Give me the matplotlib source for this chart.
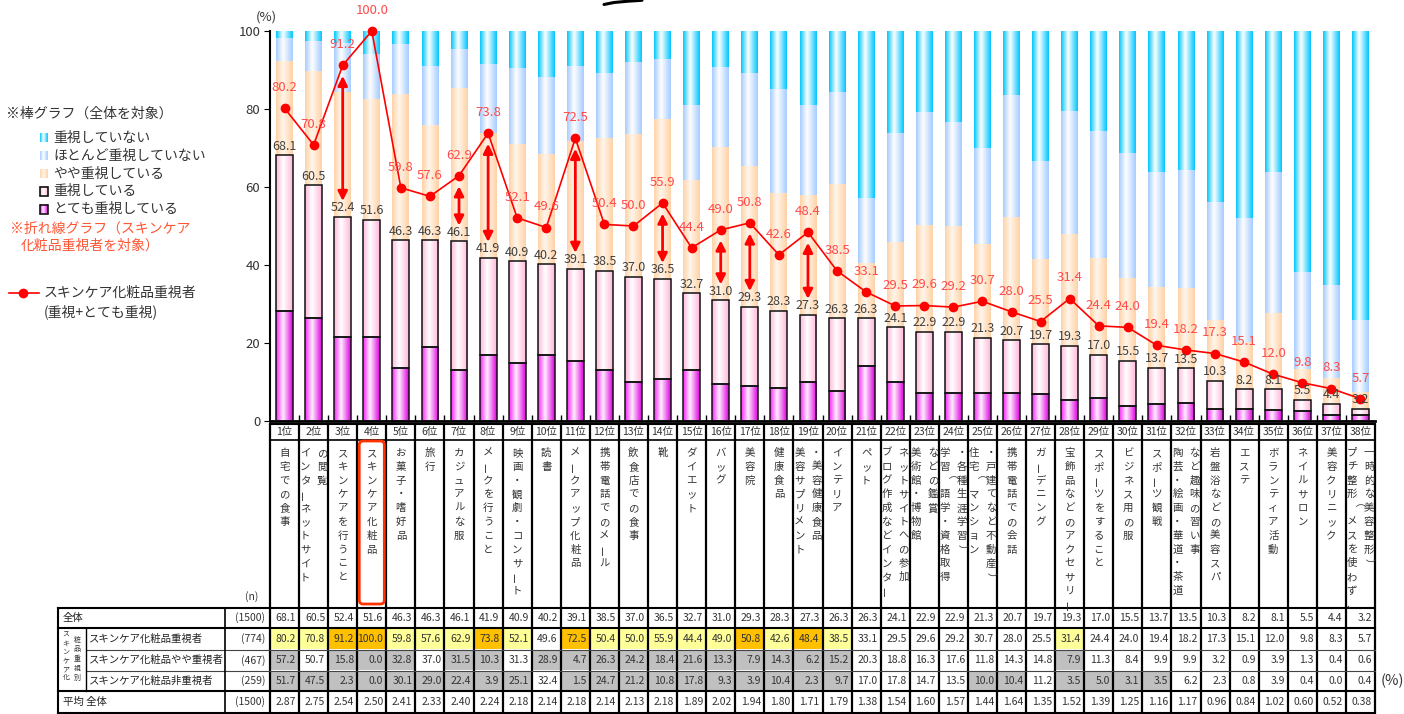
import numpy as np
import matplotlib
matplotlib.use('Agg')
import matplotlib.pyplot as plt
from matplotlib.colors import LinearSegmentedColormap
from matplotlib.patches import Rectangle, FancyBboxPatch

plt.rcParams['font.family'] = ['Noto Sans CJK JP', 'DejaVu Sans']

# ---- data ----
categories = ['自宅での食事', 'インターネットサイト|の閲覧', 'スキンケアを行うこと', 'スキンケア化粧品',
              'お菓子・嗜好品', '旅行', 'カジュアルな服', 'メークを行うこと', '映画・観劇・コンサート',
              '読書', 'メークアップ化粧品', '携帯電話でのメール', '飲食店での食事', '靴', 'ダイエット',
              'バッグ', '美容院', '健康食品', '美容サプリメント|・美容健康食品', 'インテリア', 'ペット',
              'ブログ作成などインター|ネットサイトへの参加', '美術館・博物館|などの鑑賞',
              '学習（語学・資格取得|・各種生涯学習）', '住宅（マンション|・戸建てなど不動産）',
              '携帯電話での会話', 'ガーデニング', '宝飾品などのアクセサリー', 'スポーツをすること',
              'ビジネス用の服', 'スポーツ観戦', '陶芸・絵画・華道・茶道|など趣味の習い事',
              '岩盤浴などの美容スパ', 'エステ', 'ボランティア活動', 'ネイルサロン', '美容クリニック',
              'プチ整形（メスを使わず、|一時的な美容整形）']
ranks = [f'{i}位' for i in range(1, 39)]

# stacked bar segments (全体, %)
very_imp = [28.2, 26.5, 21.6, 21.6, 13.5, 19.0, 13.0, 16.8, 15.0, 16.8, 15.5, 13.2, 9.9, 10.7, 13.2, 9.4,
            9.1, 8.4, 9.9, 7.6, 14.0, 9.9, 7.1, 7.3, 7.1, 7.1, 6.8, 5.3, 5.8, 3.8, 4.3, 4.5, 3.0, 3.2,
            2.7, 2.5, 1.5, 1.5]
imp = [39.9, 34.0, 30.8, 30.0, 32.8, 27.3, 33.1, 25.1, 25.9, 23.4, 23.6, 25.3, 27.1, 25.8, 19.5, 21.6,
       20.2, 19.9, 17.4, 18.7, 12.3, 14.2, 15.8, 15.6, 14.2, 13.6, 12.9, 14.0, 11.2, 11.7, 9.4, 9.0, 7.3,
       5.0, 5.4, 3.0, 2.9, 1.7]
somewhat = [24.1, 29.2, 32.0, 30.9, 37.5, 29.5, 39.3, 31.9, 30.2, 28.3, 32.6, 34.1, 36.5, 40.9, 29.0,
            39.2, 36.0, 30.1, 30.7, 34.5, 14.2, 21.8, 27.3, 27.1, 24.1, 31.6, 21.8, 28.7, 24.8, 21.2,
            20.6, 20.7, 15.7, 12.1, 19.6, 7.8, 6.7, 4.3]
hardly = [6.0, 7.7, 12.6, 11.7, 12.8, 15.2, 9.9, 17.7, 19.4, 19.6, 19.3, 16.6, 18.6, 15.3, 19.3, 20.5,
          23.9, 26.7, 23.0, 23.6, 16.6, 27.9, 29.0, 26.7, 24.6, 31.2, 25.1, 31.4, 32.5, 32.0, 29.5, 30.1,
          30.1, 31.7, 36.1, 24.9, 23.7, 18.4]
not_imp = [1.8, 2.6, 3.0, 5.8, 3.4, 9.0, 4.7, 8.5, 9.5, 11.9, 9.0, 10.8, 7.9, 7.3, 19.0, 9.3, 10.8, 14.9,
           19.0, 15.6, 42.9, 26.2, 20.8, 23.3, 30.0, 16.5, 33.4, 20.6, 25.7, 31.3, 36.2, 35.7, 43.9, 48.0,
           36.2, 61.8, 65.2, 74.1]

# table rows
row_all = [68.1, 60.5, 52.4, 51.6, 46.3, 46.3, 46.1, 41.9, 40.9, 40.2, 39.1, 38.5, 37.0, 36.5, 32.7, 31.0,
           29.3, 28.3, 27.3, 26.3, 26.3, 24.1, 22.9, 22.9, 21.3, 20.7, 19.7, 19.3, 17.0, 15.5, 13.7, 13.5,
           10.3, 8.2, 8.1, 5.5, 4.4, 3.2]
row_skin = [80.2, 70.8, 91.2, 100.0, 59.8, 57.6, 62.9, 73.8, 52.1, 49.6, 72.5, 50.4, 50.0, 55.9, 44.4,
            49.0, 50.8, 42.6, 48.4, 38.5, 33.1, 29.5, 29.6, 29.2, 30.7, 28.0, 25.5, 31.4, 24.4, 24.0,
            19.4, 18.2, 17.3, 15.1, 12.0, 9.8, 8.3, 5.7]
row_some = [57.2, 50.7, 15.8, 0.0, 32.8, 37.0, 31.5, 10.3, 31.3, 28.9, 4.7, 26.3, 24.2, 18.4, 21.6, 13.3,
            7.9, 14.3, 6.2, 15.2, 20.3, 18.8, 16.3, 17.6, 11.8, 14.3, 14.8, 7.9, 11.3, 8.4, 9.9, 9.9, 3.2,
            0.9, 3.9, 1.3, 0.4, 0.6]
row_non = [51.7, 47.5, 2.3, 0.0, 30.1, 29.0, 22.4, 3.9, 25.1, 32.4, 1.5, 24.7, 21.2, 10.8, 17.8, 9.3, 3.9,
           10.4, 2.3, 9.7, 17.0, 17.8, 14.7, 13.5, 10.0, 10.4, 11.2, 3.5, 5.0, 3.1, 3.5, 6.2, 2.3, 0.8,
           3.9, 0.4, 0.0, 0.4]
row_avg = [2.87, 2.75, 2.54, 2.50, 2.41, 2.33, 2.40, 2.24, 2.18, 2.14, 2.18, 2.14, 2.13, 2.18, 1.89, 2.02,
           1.94, 1.80, 1.71, 1.79, 1.38, 1.54, 1.60, 1.57, 1.44, 1.64, 1.35, 1.52, 1.39, 1.25, 1.16, 1.17,
           0.96, 0.84, 1.02, 0.60, 0.52, 0.38]
row_names = ['全体', 'スキンケア化粧品重視者', 'スキンケア化粧品やや重視者', 'スキンケア化粧品非重視者', '平均 全体']
row_n = ['(1500)', '(774)', '(467)', '(259)', '(1500)']

orange_cols = [3, 4, 8, 11, 17, 19]
yellow_cols = [1, 2, 5, 6, 7, 9, 12, 13, 14, 15, 16, 18, 20, 28]
gray_some = [1, 3, 4, 5, 7, 8, 10, 11, 12, 13, 14, 15, 16, 17, 18, 19, 20, 28]
gray_non = [1, 2, 3, 4, 5, 6, 7, 8, 9, 11, 12, 13, 14, 15, 16, 17, 18, 19, 20, 25, 26, 28, 29, 30, 31]
arrow_cols = [3, 7, 8, 11, 14, 16, 17, 19]

legend_labels = ['重視していない', 'ほとんど重視していない', 'やや重視している', '重視している', 'とても重視している']

# ---- figure ----
W, H = 1404, 714
fig = plt.figure(figsize=(W / 100, H / 100), dpi=100, facecolor='white')
ov = fig.add_axes([0, 0, 1, 1], zorder=0)
ov.set_xlim(0, W)
ov.set_ylim(H, 0)
ov.axis('off')
ax = fig.add_axes([270 / W, (H - 421) / H, 1105 / W, 390 / H], zorder=1)
ax.patch.set_alpha(0)

def grad_cmap(c_edge, c_mid='#FFFFFF', c_right=None):
    c_right = c_right or c_edge
    return LinearSegmentedColormap.from_list('g', [(0, c_edge), (0.42, c_mid), (1, c_right)])

cmaps = [grad_cmap('#FF22FF', '#FFF0FF', '#E000E0'),
         grad_cmap('#FFB8DA', '#FFFFFF'),
         grad_cmap('#FFD2A6', '#FFF6EC'),
         grad_cmap('#A6CCFF', '#FFFFFF'),
         grad_cmap('#00C6FF', '#FFFFFF')]
grad = np.linspace(0, 1, 64).reshape(1, -1)

x = np.arange(len(categories))
bw = 0.58
bottom = np.zeros(len(x))
for k, (vals, cm) in enumerate(zip([very_imp, imp, somewhat, hardly, not_imp], cmaps)):
    bars = ax.bar(x, vals, bw, bottom=bottom, color='none',
                  edgecolor='#111111' if k < 2 else 'none', linewidth=1.1, zorder=3)
    for p in bars:
        x0, y0 = p.get_xy()
        im = ax.imshow(grad, extent=[x0, x0 + p.get_width(), y0, y0 + p.get_height()],
                       cmap=cm, aspect='auto', interpolation='bicubic', zorder=2)
        im.set_clip_path(p)
    bottom = bottom + np.array(vals)

# line of skincare-oriented respondents
ax.plot(x, row_skin, color='#FF0000', lw=1.2, marker='o', ms=6, zorder=6, clip_on=False)
for i, v in enumerate(row_skin):
    ax.text(i, v + 5.3, f'{v:.1f}', color='#FF4A4A', ha='center', va='center', fontsize=9.5, zorder=7)
for i, v in enumerate(row_all):
    ax.text(i, v + 2.3, f'{v:.1f}', color='#404040', ha='center', va='center', fontsize=9, zorder=7)
for c in arrow_cols:
    i = c - 1
    ax.annotate('', xy=(i, row_all[i] + 4), xytext=(i, row_skin[i] - 2.7),
                arrowprops=dict(arrowstyle='<|-|>', color='#FF0000', lw=2, mutation_scale=14,
                                shrinkA=0, shrinkB=0), zorder=8)

ax.set_xlim(-0.5, len(x) - 0.5)
ax.set_ylim(0, 100)
ax.set_yticks(range(0, 101, 20))
ax.tick_params(axis='y', direction='out', length=4, labelsize=9.5, labelcolor='#333333', pad=3)
ax.set_xticks(np.arange(len(x) - 1) + 0.5)
ax.set_xticklabels([])
ax.tick_params(axis='x', direction='in', length=4, width=1)
for s in ['top', 'right']:
    ax.spines[s].set_visible(False)
ax.spines['left'].set_linewidth(1.5)
ax.spines['bottom'].set_linewidth(2)
ov.text(266, 17, '(%)', ha='center', va='center', fontsize=9.5, color='#333333')

# ---- category / table grid in pixel space ----
edges = ax.transData.transform(np.c_[np.arange(len(x) + 1) - 0.5, np.zeros(len(x) + 1)])[:, 0]
centers = (edges[:-1] + edges[1:]) / 2
right = edges[-1]
y_head, y_cat, y_tab = 424, 440, 608
row_y = [608, 628, 649.5, 671, 691, 713]

for e in edges:
    ov.plot([e, e], [y_head, row_y[-1]], color='black', lw=1.6, solid_capstyle='butt')
ov.plot([edges[0], right], [y_head, y_head], color='black', lw=1.5)
ov.plot([edges[0], right], [y_cat, y_cat], color='black', lw=1.2)
ov.plot([58, right], [row_y[0], row_y[0]], color='black', lw=1.5)
ov.plot([58, right], [row_y[1], row_y[1]], color='black', lw=1.5)
ov.plot([86, right], [row_y[2], row_y[2]], color='#444444', lw=0.8)
ov.plot([86, right], [row_y[3], row_y[3]], color='#444444', lw=0.8)
ov.plot([58, right], [row_y[4], row_y[4]], color='black', lw=1.5)
ov.plot([58, right], [row_y[5], row_y[5]], color='black', lw=1.5)
ov.plot([58, 58], [row_y[0], row_y[5]], color='black', lw=1.5)
ov.plot([86, 86], [row_y[1], row_y[4]], color='black', lw=1.0)
ov.plot([225, 225], [row_y[0], row_y[5]], color='black', lw=1.2)

ROT = {'ー': 90, '（': -90, '）': -90}
step = 13.8
for i, lab in enumerate(categories):
    ov.text(centers[i], (y_head + y_cat) / 2, ranks[i], ha='center', va='center', fontsize=7.5,
            color='#333333')
    cols = lab.split('|')
    offs = [0] if len(cols) == 1 else [-8.5, 8.5]
    for off, s in zip(offs, cols):
        for k, ch in enumerate(s):
            ov.text(centers[i] + off, 453 + k * step, ch, ha='center', va='center', fontsize=7.5,
                    color='#333333', rotation=ROT.get(ch, 0))

c4 = 3
ov.add_patch(FancyBboxPatch((edges[c4] + 2, 441), edges[c4 + 1] - edges[c4] - 4, 163,
                            boxstyle='round,pad=0,rounding_size=4', fc='none', ec='#FF3300', lw=2,
                            zorder=5))

ov.text(252, 597, '(n)', ha='center', va='center', fontsize=7.5, color='#333333')

rows = [row_all, row_skin, row_some, row_non, row_avg]
for r, vals in enumerate(rows):
    y0, y1 = row_y[r], row_y[r + 1]
    ym = (y0 + y1) / 2
    lx = 63 if r in (0, 4) else 89
    ov.text(lx, ym, row_names[r], ha='left', va='center', fontsize=7.5, color='#222222')
    ov.text(265, ym, row_n[r], ha='right', va='center', fontsize=7.5, color='#333333')
    for i, v in enumerate(vals):
        col = i + 1
        fc = None
        if r == 1 and col in orange_cols:
            fc = '#FFC000'
        elif r == 1 and col in yellow_cols:
            fc = '#FFFF99'
        elif r == 2 and col in gray_some:
            fc = '#C0C0C0'
        elif r == 3 and col in gray_non:
            fc = '#C0C0C0'
        if fc:
            ov.add_patch(Rectangle((edges[i] + 1, y0 + 0.8), edges[i + 1] - edges[i] - 2, y1 - y0 - 1.6,
                                   fc=fc, ec='none', zorder=0.5))
        txt = f'{v:.2f}' if r == 4 else f'{v:.1f}'
        ov.text(edges[i + 1] - 3, ym, txt, ha='right', va='center', fontsize=7.5, color='#333333',
                zorder=2)

for k, ch in enumerate('スキンケア化'):
    ov.text(66, 635 + k * 8.6, ch, ha='center', va='center', fontsize=5, color='#333333',
            rotation=ROT.get(ch, 0))
for k, ch in enumerate('粧品重視別'):
    ov.text(77, 640 + k * 9.5, ch, ha='center', va='center', fontsize=5, color='#333333')
ov.text(1392, 681, '(%)', ha='center', va='center', fontsize=10.5, color='#333333')

# ---- legend (left) ----
ov.text(6, 114, '※棒グラフ（全体を対象）', ha='left', va='center', fontsize=10, color='#333333')
leg_y = [138, 156, 174, 191, 209]
for k, (lab, yy) in enumerate(zip(legend_labels, leg_y)):
    cm = cmaps[4 - k]
    ov.imshow(grad, extent=[40, 48, yy + 4.5, yy - 4.5], cmap=cm, aspect='auto',
              interpolation='bicubic', zorder=1)
    if k >= 3:
        ov.add_patch(Rectangle((40, yy - 4.5), 8, 9, fc='none', ec='#111111', lw=1.2, zorder=2))
    ov.text(53, yy, lab, ha='left', va='center', fontsize=10, color='#333333')
ov.text(10, 229, '※折れ線グラフ（スキンケア', ha='left', va='center', fontsize=10, color='#FF5533')
ov.text(21, 246, '化粧品重視者を対象）', ha='left', va='center', fontsize=10, color='#FF5533')
ov.plot([9, 39], [293, 293], color='#FF0000', lw=1.2)
ov.plot([23], [293], color='#FF0000', marker='o', ms=6)
ov.text(44, 293, 'スキンケア化粧品重視者', ha='left', va='center', fontsize=10, color='#333333')
ov.text(44, 312, '(重視+とても重視)', ha='left', va='center', fontsize=10, color='#333333')

# stray pen stroke at the top of the source image
ov.plot([604, 614, 628, 642], [4.5, 2.5, 1.2, 0.3], color='black', lw=2.2, solid_capstyle='round')

ov.set_xlim(0, W)
ov.set_ylim(H, 0)
ax.set_xlim(-0.5, len(x) - 0.5)
ax.set_ylim(0, 100)

fig.savefig('out.png', dpi=100)
